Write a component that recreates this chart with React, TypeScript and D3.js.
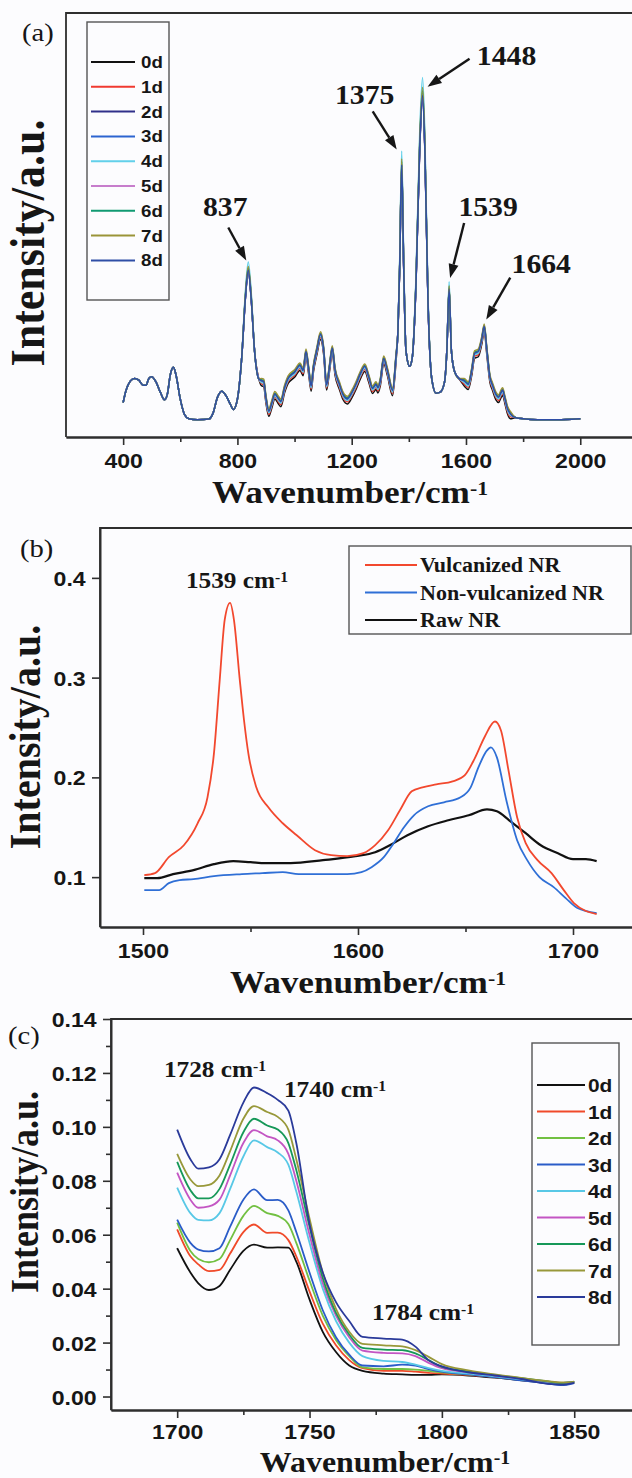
import React, { useRef, useEffect } from 'react';
import * as d3 from 'd3';

const W = 632, H = 1478;

// ---------- panel (a): Raman spectra, 0d-8d ----------
const daysA = ['0d', '1d', '2d', '3d', '4d', '5d', '6d', '7d', '8d'];
const colorsA = ['#111111', '#f03a30', '#30308a', '#2c64d0', '#62d0ea', '#c77dcc', '#109a72', '#9a9438', '#2f4ea6'];
const wnA = [400, 410, 425, 440, 455, 470, 480, 490, 500, 515, 530, 545, 555, 565, 576, 585, 600, 615, 630, 660, 700,
  715, 730, 745, 760, 775, 786, 800, 815, 828, 838, 848, 860, 875, 885, 892, 900, 910, 920, 931, 942, 952, 965, 978,
  1000, 1019, 1030, 1040, 1050, 1058, 1066, 1078, 1091, 1102, 1112, 1122, 1132, 1142, 1157, 1170, 1185, 1200, 1215,
  1230, 1246, 1260, 1273, 1285, 1292, 1300, 1312, 1325, 1343, 1355, 1362, 1368, 1375, 1382, 1390, 1403, 1412, 1425,
  1438, 1448, 1456, 1467, 1480, 1495, 1510, 1525, 1533, 1541, 1549, 1560, 1575, 1594, 1608, 1620, 1630, 1643, 1655,
  1664, 1673, 1684, 1693, 1705, 1714, 1722, 1728, 1736, 1745, 1755, 1775, 1800, 1850, 1900, 1950, 2000];
const baseA = [0.05, 0.085, 0.112, 0.12, 0.115, 0.1, 0.1, 0.12, 0.125, 0.11, 0.08, 0.058, 0.075, 0.13, 0.152, 0.13, 0.06,
  0.015, 0.003, 0.0, 0.002, 0.02, 0.065, 0.083, 0.07, 0.045, 0.03, 0.06, 0.18, 0.36, 0.44, 0.36, 0.2, 0.118, 0.11, 0.108,
  0.06, 0.022, 0.045, 0.072, 0.06, 0.05, 0.09, 0.118, 0.135, 0.155, 0.14, 0.195, 0.14, 0.095, 0.15, 0.2, 0.245, 0.2,
  0.098, 0.15, 0.205, 0.14, 0.1, 0.07, 0.058, 0.075, 0.1, 0.13, 0.152, 0.12, 0.088, 0.1, 0.09, 0.11, 0.175, 0.14, 0.082,
  0.18, 0.26, 0.45, 0.75, 0.45, 0.2, 0.155, 0.18, 0.4, 0.8, 0.955, 0.8, 0.35, 0.12, 0.077, 0.08, 0.11, 0.2, 0.385, 0.2,
  0.14, 0.12, 0.11, 0.1, 0.14, 0.19, 0.195, 0.23, 0.268, 0.2, 0.12, 0.097, 0.07, 0.062, 0.075, 0.083, 0.06, 0.03, 0.015,
  0.006, 0.003, 0.0, 0.0, 0.001, 0.003];
// small spread between the days in the fingerprint region and at the strong peaks
const liftA = [-0.012, -0.006, 0.0, 0.002, -0.002, 0.004, 0.006, 0.01, 0.003];
const peakA = [0.98, 0.99, 0.985, 0.99, 1.04, 0.99, 1.0, 1.01, 0.985];
const liftZonesA = [[880, 1360], [1590, 1760]];
const majorA = [400, 800, 1200, 1600, 2000];
const minorA = [600, 1000, 1400, 1800];
const peakLabelsA = ['837', '1375', '1448', '1539', '1664'];
const peakWnA = [838, 1375, 1448, 1541, 1664];

// ---------- panel (b) ----------
const namesB = ['Vulcanized NR', 'Non-vulcanized NR', 'Raw NR'];
const colorsB = ['#f2482e', '#2f6fd6', '#111111'];
const vulcWn = [1500.6, 1505.6, 1512, 1519, 1525.4, 1530, 1533, 1535.7, 1538, 1540.5, 1542.3, 1545, 1547, 1549, 1552.7,
  1558.3, 1565, 1571.5, 1580, 1587.5, 1595, 1602.5, 1608, 1614, 1619.5, 1625, 1630, 1636.4, 1644, 1649.6, 1654.3, 1659,
  1663.7, 1666.5, 1670, 1674, 1678, 1683.5, 1690, 1695.7, 1700.4, 1706, 1711];
const vulcI = [0.102, 0.104, 0.12, 0.132, 0.154, 0.18, 0.224, 0.298, 0.358, 0.375, 0.358, 0.298, 0.257, 0.224, 0.19,
  0.17, 0.154, 0.142, 0.127, 0.122, 0.121, 0.124, 0.132, 0.147, 0.167, 0.186, 0.19, 0.193, 0.196, 0.202, 0.219, 0.241,
  0.256, 0.247, 0.207, 0.16, 0.134, 0.117, 0.104, 0.087, 0.074, 0.066, 0.063];
const nonWn = [1500.6, 1507.5, 1512, 1517, 1523.5, 1533, 1546, 1555.5, 1565, 1572.4, 1583.7, 1595, 1601.6, 1606.3, 1612,
  1616.6, 1621.4, 1626, 1632.6, 1640, 1647.7, 1652.4, 1656, 1660, 1661.8, 1664.6, 1669, 1674, 1678.7, 1684.4, 1691,
  1696.6, 1702, 1711];
const nonI = [0.087, 0.087, 0.094, 0.097, 0.098, 0.101, 0.103, 0.104, 0.105, 0.103, 0.103, 0.103, 0.105, 0.11, 0.12,
  0.134, 0.15, 0.162, 0.171, 0.175, 0.18, 0.19, 0.21, 0.227, 0.23, 0.22, 0.177, 0.137, 0.117, 0.1, 0.09, 0.079, 0.069,
  0.064];
const rawWn = [1500.6, 1506.6, 1514, 1523.5, 1533, 1542, 1550, 1557, 1568.7, 1583.7, 1598.8, 1608, 1615.7, 1623, 1632.6,
  1642, 1651.5, 1660, 1664.6, 1670.3, 1678, 1685, 1693, 1700, 1706, 1711];
const rawI = [0.099, 0.099, 0.103, 0.107, 0.113, 0.116, 0.115, 0.114, 0.114, 0.117, 0.121, 0.125, 0.133, 0.142, 0.151,
  0.157, 0.162, 0.168, 0.166, 0.157, 0.144, 0.132, 0.124, 0.118, 0.118, 0.116];
const majorBx = [1500, 1600, 1700];
const minorBx = [1550, 1650];
const majorBy = [0.1, 0.2, 0.3, 0.4];

// ---------- panel (c) ----------
const daysC = ['0d', '1d', '2d', '3d', '4d', '5d', '6d', '7d', '8d'];
const colorsC = ['#111111', '#f04a2a', '#72c042', '#2a5cc8', '#58c8e6', '#c355c3', '#169858', '#98983a', '#2a3a9a'];
const wnC = [1700, 1705, 1708, 1712, 1716, 1720, 1725, 1729, 1734, 1738, 1742, 1745, 1750, 1755, 1760, 1765, 1770, 1778,
  1785, 1790, 1795, 1800, 1810, 1820, 1830, 1840, 1845, 1850];
const c0d = [0.055, 0.046, 0.042, 0.0395, 0.041, 0.047, 0.054, 0.0563, 0.0552, 0.0553, 0.0552, 0.05, 0.036, 0.024,
  0.0165, 0.0115, 0.0095, 0.0085, 0.0082, 0.008, 0.008, 0.0082, 0.0078, 0.007, 0.006, 0.005, 0.0045, 0.0055];
const c1d = [0.062, 0.052, 0.049, 0.0465, 0.047, 0.053, 0.061, 0.0638, 0.0607, 0.0608, 0.058, 0.052, 0.039, 0.027,
  0.019, 0.0135, 0.0105, 0.0095, 0.0095, 0.0092, 0.0088, 0.0085, 0.008, 0.0072, 0.0062, 0.0052, 0.0048, 0.0052];
const c2d = [0.0645, 0.054, 0.051, 0.0498, 0.051, 0.058, 0.067, 0.0707, 0.068, 0.067, 0.064, 0.057, 0.043, 0.03, 0.021,
  0.015, 0.0108, 0.0102, 0.0102, 0.01, 0.0095, 0.009, 0.0082, 0.0073, 0.0062, 0.0052, 0.0048, 0.0052];
const c3d = [0.0656, 0.057, 0.0545, 0.0538, 0.055, 0.063, 0.073, 0.0768, 0.0728, 0.0729, 0.069, 0.061, 0.046, 0.032,
  0.022, 0.0155, 0.0115, 0.0112, 0.0118, 0.0115, 0.0102, 0.0092, 0.0082, 0.0072, 0.006, 0.0048, 0.0042, 0.005];
const c4d = [0.0775, 0.068, 0.0655, 0.0653, 0.068, 0.077, 0.089, 0.095, 0.0925, 0.0905, 0.086, 0.076, 0.057, 0.04,
  0.028, 0.02, 0.015, 0.0132, 0.0128, 0.0118, 0.0105, 0.0095, 0.0085, 0.0075, 0.0064, 0.0054, 0.005, 0.0053];
const c5d = [0.083, 0.073, 0.07, 0.0705, 0.073, 0.082, 0.094, 0.0988, 0.0965, 0.095, 0.09, 0.08, 0.06, 0.042, 0.03,
  0.022, 0.017, 0.0162, 0.016, 0.015, 0.0125, 0.0105, 0.009, 0.0078, 0.0066, 0.0055, 0.005, 0.0053];
const c6d = [0.087, 0.0765, 0.0735, 0.0735, 0.077, 0.086, 0.098, 0.103, 0.1005, 0.099, 0.094, 0.084, 0.063, 0.044,
  0.031, 0.023, 0.018, 0.0174, 0.0172, 0.016, 0.0135, 0.011, 0.0093, 0.008, 0.0068, 0.0056, 0.005, 0.0054];
const c7d = [0.09, 0.0805, 0.078, 0.0785, 0.082, 0.091, 0.103, 0.1077, 0.1055, 0.1037, 0.099, 0.088, 0.066, 0.046,
  0.0325, 0.024, 0.0195, 0.019, 0.0186, 0.0172, 0.0147, 0.012, 0.0097, 0.0082, 0.0069, 0.0057, 0.0052, 0.0054];
const c8d = [0.099, 0.088, 0.0845, 0.085, 0.088, 0.097, 0.109, 0.1146, 0.1125, 0.11, 0.106, 0.094, 0.064, 0.046, 0.035,
  0.028, 0.0221, 0.0215, 0.0211, 0.0185, 0.0134, 0.0112, 0.009, 0.0078, 0.0065, 0.0047, 0.0044, 0.0051];
const seriesC = [c0d, c1d, c2d, c3d, c4d, c5d, c6d, c7d, c8d];
const majorCx = [1700, 1750, 1800, 1850];
const minorCx = [1725, 1775, 1825];
const majorCy = [0, 0.02, 0.04, 0.06, 0.08, 0.1, 0.12, 0.14];
const minorCy = [0.01, 0.03, 0.05, 0.07, 0.09, 0.11, 0.13];

const SERIF = '"Liberation Serif", "Times New Roman", serif';
const SANS = '"Liberation Sans", Arial, sans-serif';
const SX = 1.1;
const INK = '#161616';
const FRAME = '#2e2e2e';

function App() {
  const ref = useRef(null);

  useEffect(() => {
    const svg = d3.select(ref.current);
    svg.selectAll('*').remove();
    svg.append('rect').attr('width', W).attr('height', H).attr('fill', '#fcfcfe');

    const label = (x, y, str, o: any = {}) => {
      const t = svg.append('text')
        .attr('transform', `translate(${x},${y}) ` + (o.rotate ? `rotate(-90) scale(1,${SX})` : `scale(${SX},1)`))
        .attr('font-family', o.family || SERIF)
        .attr('font-weight', o.weight || 'bold')
        .attr('font-size', o.size || 24)
        .attr('text-anchor', o.anchor || 'start')
        .attr('fill', INK);
      t.append('tspan').text(str);
      if (o.sup) t.append('tspan').attr('dy', '-0.42em').attr('font-size', '0.62em').text(o.sup);
      return t;
    };

    const styleAxis = (g, size) => {
      g.attr('color', FRAME);
      g.selectAll('line').attr('stroke-width', 1.6);
      g.select('.domain').attr('stroke-width', 2);
      g.selectAll('text')
        .attr('font-family', SANS).attr('font-weight', 'bold').attr('font-size', size)
        .attr('fill', INK).attr('transform', `scale(${SX},1)`);
    };

    const bottomAxis = (x, y0, major, minor, size, pad = 8) => {
      const gm = svg.append('g').attr('transform', `translate(0,${y0})`)
        .call(d3.axisBottom(x).tickValues(minor).tickSize(5).tickSizeOuter(0).tickFormat(() => ''));
      styleAxis(gm, size);
      const g = svg.append('g').attr('transform', `translate(0,${y0})`)
        .call(d3.axisBottom(x).tickValues(major).tickSize(8).tickPadding(pad).tickSizeOuter(0).tickFormat(d3.format('d')));
      styleAxis(g, size);
    };

    const leftAxis = (y, x0, major, minor, fmt, size) => {
      if (minor.length) {
        const gm = svg.append('g').attr('transform', `translate(${x0},0)`)
          .call(d3.axisLeft(y).tickValues(minor).tickSize(5).tickSizeOuter(0).tickFormat(() => ''));
        styleAxis(gm, size);
        gm.select('.domain').remove();
      }
      const g = svg.append('g').attr('transform', `translate(${x0},0)`)
        .call(d3.axisLeft(y).tickValues(major).tickSize(8).tickPadding(5).tickSizeOuter(0).tickFormat(d3.format(fmt)));
      styleAxis(g, size);
      g.selectAll('text').attr('dy', '0.36em');
    };

    const frame = (x, y) => {
      const [x0, x1] = x.range();
      const [y1, y0] = y.range();
      svg.append('path')
        .attr('d', `M${x0},${y1}V${y0}H${x1 + 10}V${y1}`)
        .attr('fill', 'none').attr('stroke', FRAME).attr('stroke-width', 1.8);
    };

    const arrow = (x1, y1, x2, y2) => {
      const a = Math.atan2(y2 - y1, x2 - x1);
      const len = 14, half = 5;
      const bx = x2 - len * Math.cos(a), by = y2 - len * Math.sin(a);
      svg.append('line').attr('x1', x1).attr('y1', y1).attr('x2', bx).attr('y2', by)
        .attr('stroke', INK).attr('stroke-width', 2.4);
      svg.append('path')
        .attr('d', `M${x2},${y2}L${bx + half * Math.sin(a)},${by - half * Math.cos(a)}L${bx - half * Math.sin(a)},${by + half * Math.cos(a)}Z`)
        .attr('fill', INK);
    };

    // ================= (a) =================
    const xA = d3.scaleLinear().domain([200, 2200]).range([66, 637.4]);
    const yA = d3.scaleLinear().domain([-0.05, 1.18]).range([437, 13]);
    frame(xA, yA);
    const lineA = d3.line<number>().x((_, i) => xA(wnA[i])).y((d) => yA(d)).curve(d3.curveMonotoneX);
    daysA.forEach((day, k) => {
      const vals = baseA.map((v, i) => {
        const w = wnA[i];
        const inZone = liftZonesA.some(([a, b]) => w >= a && w <= b);
        const peak = v > 0.3 ? v * peakA[k] : v;
        return peak + (inZone ? liftA[k] : 0);
      });
      svg.append('path').datum(vals)
        .attr('fill', 'none').attr('stroke', colorsA[k]).attr('stroke-width', 1.5)
        .attr('d', lineA);
    });
    bottomAxis(xA, 437, majorA, minorA, 21);

    // peak annotations: [tail dx, tail dy, tip dx, tip dy, text dx, text dy] relative to the peak
    const annA = [[-20, -36, -2, -3, -23, -48], [-29, -42, -5, -4, -37, -49], [47, -22, 5, 6, 84, -16],
      [15, -60, 1, -5, 39, -67], [26, -47, 2, -5, 57, -52]];
    peakLabelsA.forEach((lab, i) => {
      const px = xA(peakWnA[i]);
      const pv = baseA[wnA.indexOf(peakWnA[i])];
      const py = yA(pv * 1.03);
      const [tx, ty, hx, hy, lx, ly] = annA[i];
      arrow(px + tx, py + ty, px + hx, py + hy);
      label(px + lx, py + ly, lab, { size: 27, anchor: 'middle' });
    });

    // legend (a)
    svg.append('rect').attr('x', 87).attr('y', 22).attr('width', 82).attr('height', 278)
      .attr('fill', 'none').attr('stroke', '#555').attr('stroke-width', 1.4);
    daysA.forEach((day, k) => {
      const ly = 62 + k * 24.8;
      svg.append('line').attr('x1', 91).attr('x2', 135).attr('y1', ly).attr('y2', ly)
        .attr('stroke', colorsA[k]).attr('stroke-width', 2);
      label(141, ly + 6, day, { family: SANS, size: 17 });
    });

    label(22, 41, '(a)', { weight: 'normal', size: 26 });
    label(44, 243, 'Intensity/a.u.', { rotate: true, size: 44, anchor: 'middle' });
    label(350, 503, 'Wavenumber/cm', { size: 32, anchor: 'middle', sup: '-1' });

    // ================= (b) =================
    const xB = d3.scaleLinear().domain([1480, 1730]).range([100, 637.5]);
    const yB = d3.scaleLinear().domain([0.05, 0.45]).range([927, 528]);
    frame(xB, yB);
    const seriesB = [[vulcWn, vulcI], [nonWn, nonI], [rawWn, rawI]];
    const drawOrder = [2, 1, 0];
    drawOrder.forEach((k) => {
      const [ws, vs] = seriesB[k];
      const ln = d3.line<number>().x((_, i) => xB(ws[i])).y((d) => yB(d)).curve(d3.curveMonotoneX);
      svg.append('path').datum(vs)
        .attr('fill', 'none').attr('stroke', colorsB[k]).attr('stroke-width', k === 2 ? 2.2 : 1.8)
        .attr('d', ln);
    });
    bottomAxis(xB, 927, majorBx, minorBx, 21);
    leftAxis(yB, 100, majorBy, [], '.1f', 21);

    svg.append('rect').attr('x', 349).attr('y', 546).attr('width', 282).attr('height', 88)
      .attr('fill', 'none').attr('stroke', '#555').attr('stroke-width', 1.4);
    namesB.forEach((nm, k) => {
      const ly = 565 + k * 27.5;
      svg.append('line').attr('x1', 365).attr('x2', 417).attr('y1', ly).attr('y2', ly)
        .attr('stroke', colorsB[k]).attr('stroke-width', 2);
      label(420, ly + 7, nm, { size: 20 });
    });

    label(237, 588, '1539 cm', { size: 23, anchor: 'middle', sup: '-1' });
    label(20, 557, '(b)', { weight: 'normal', size: 26 });
    label(40, 737, 'Intensity/a.u.', { rotate: true, size: 40, anchor: 'middle' });
    label(368, 993, 'Wavenumber/cm', { size: 32, anchor: 'middle', sup: '-1' });

    // ================= (c) =================
    const xC = d3.scaleLinear().domain([1675, 1875]).range([111, 640.4]);
    const yC = d3.scaleLinear().domain([-0.005, 0.14]).range([1410, 1019]);
    frame(xC, yC);
    const lineC = d3.line<number>().x((_, i) => xC(wnC[i])).y((d) => yC(d)).curve(d3.curveMonotoneX);
    seriesC.forEach((vals, k) => {
      svg.append('path').datum(vals)
        .attr('fill', 'none').attr('stroke', colorsC[k]).attr('stroke-width', 1.8)
        .attr('d', lineC);
    });
    bottomAxis(xC, 1410, majorCx, minorCx, 21, 6);
    leftAxis(yC, 111, majorCy, minorCy, '.2f', 21);

    svg.append('rect').attr('x', 532).attr('y', 1043).attr('width', 87).attr('height', 302)
      .attr('fill', 'none').attr('stroke', '#555').attr('stroke-width', 1.4);
    daysC.forEach((day, k) => {
      const ly = 1085 + k * 26.5;
      svg.append('line').attr('x1', 537).attr('x2', 585).attr('y1', ly).attr('y2', ly)
        .attr('stroke', colorsC[k]).attr('stroke-width', 2);
      label(588, ly + 7, day, { family: SANS, size: 19 });
    });

    label(215, 1077, '1728 cm', { size: 23, anchor: 'middle', sup: '-1' });
    label(335, 1097, '1740 cm', { size: 23, anchor: 'middle', sup: '-1' });
    label(423, 1320, '1784 cm', { size: 23, anchor: 'middle', sup: '-1' });
    label(8, 1044, '(c)', { weight: 'normal', size: 26 });
    label(38, 1192, 'Intensity/a.u.', { rotate: true, size: 36, anchor: 'middle' });
    label(385, 1472, 'Wavenumber/cm', { size: 29, anchor: 'middle', sup: '-1' });
  }, []);

  return <svg ref={ref} width={W} height={H} style={{ position: 'absolute', left: 0, top: 0, display: 'block' }} />;
}

export default App;
